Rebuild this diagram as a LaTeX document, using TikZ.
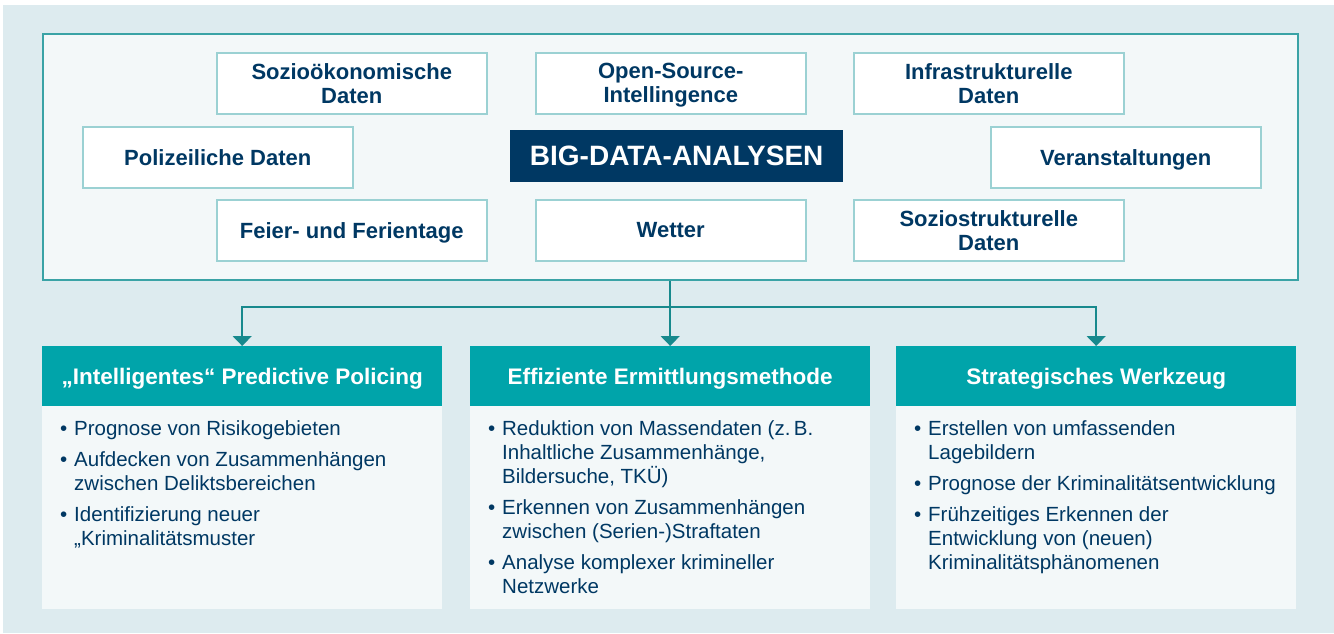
\documentclass[tikz,border=0pt]{standalone}
\usepackage{fontspec}
\setmainfont{Liberation Sans}
\usetikzlibrary{arrows.meta}
\definecolor{bgblue}{HTML}{DDEBEF}
\definecolor{panel}{HTML}{F3F8F9}
\definecolor{tealline}{HTML}{3AA3A6}
\definecolor{boxline}{HTML}{9BD1D3}
\definecolor{navy}{HTML}{003863}
\definecolor{headteal}{HTML}{00A4AA}
\definecolor{arrowteal}{HTML}{17898D}
\newcommand{\bul}{\makebox[14pt][l]{•}}
\newcommand{\ind}{\hspace*{14pt}}
\begin{document}
\begin{tikzpicture}[x=1pt,y=-1pt,
  outerbox/.style={draw=tealline, line width=2pt, fill=panel, anchor=north west, inner sep=0pt, minimum width=1255pt, minimum height=246pt},
  databox/.style={draw=boxline, line width=1.5pt, fill=white, minimum width=270pt, minimum height=61pt, inner sep=0pt, anchor=north west, align=center, text=navy, text depth=0pt, font=\fontsize{22}{24}\selectfont\bfseries},
  bigbox/.style={fill=navy, text=white, minimum width=333pt, minimum height=52pt, inner sep=0pt, anchor=north west, text depth=0pt, font=\fontsize{28}{30}\selectfont\bfseries},
  header/.style={fill=headteal, text=white, minimum width=400pt, minimum height=60pt, inner sep=0pt, anchor=north west, text depth=0pt, font=\fontsize{22.5}{24}\selectfont\bfseries},
  bodybox/.style={fill=panel, minimum width=400pt, minimum height=203pt, inner sep=0pt, anchor=north west},
  bodytext/.style={anchor=north west, inner sep=0pt, align=left, text=navy, font=\fontsize{20.5}{24}\selectfont},
  conn/.style={draw=arrowteal, line width=1.5pt, -{Triangle[width=19pt,length=10pt]}},
]
\useasboundingbox (0,0) rectangle (1334,633);
\fill[white] (0,0) rectangle (1334,633);
\fill[bgblue] (3,5) rectangle (1334,633);

\node[outerbox] (outer) at (42,33) {};

\node[databox] (sozoek) at (216,52) {Sozioökonomische\\Daten};
\node[databox] (osint) at (535,52) {Open-Source-\\Intellingence};
\node[databox] (infra) at (853,52) {Infrastrukturelle\\Daten};
\node[databox] (polizei) at (82,126) {Polizeiliche Daten};
\node[bigbox] (big) at (510,130) {BIG-DATA-ANALYSEN};
\node[databox] (veran) at (990,126) {Veranstaltungen};
\node[databox] (feier) at (216,199) {Feier- und Ferientage};
\node[databox] (wetter) at (535,199) {Wetter};
\node[databox] (sozstr) at (853,199) {Soziostrukturelle\\Daten};

\node[header] (h1) at (42,346) {„Intelligentes“ Predictive Policing};
\node[header] (h2) at (470,346) {Effiziente Ermittlungsmethode};
\node[header] (h3) at (896,346) {Strategisches Werkzeug};
\node[bodybox] (b1) at (42,406) {};
\node[bodybox] (b2) at (470,406) {};
\node[bodybox] (b3) at (896,406) {};

\node[bodytext] (t1) at (60,420) {\bul Prognose von Risikogebieten\\[7pt]
\bul Aufdecken von Zusammenhängen\\
\ind zwischen Deliktsbereichen\\[7pt]
\bul Identifizierung neuer\\
\ind „Kriminalitätsmuster};
\node[bodytext] (t2) at (488,420) {\bul Reduktion von Massendaten (z.\,B.\\
\ind Inhaltliche Zusammenhänge,\\
\ind Bildersuche, TKÜ)\\[7pt]
\bul Erkennen von Zusammenhängen\\
\ind zwischen (Serien-)Straftaten\\[7pt]
\bul Analyse komplexer krimineller\\
\ind Netzwerke};
\node[bodytext] (t3) at (914,420) {\bul Erstellen von umfassenden\\
\ind Lagebildern\\[7pt]
\bul Prognose der Kriminalitätsentwicklung\\[7pt]
\bul Frühzeitiges Erkennen der\\
\ind Entwicklung von (neuen)\\
\ind Kriminalitätsphänomenen};

\coordinate (split) at (670,307);
\draw[conn] (outer.south -| h2.north) -- (h2.north);
\draw[conn] (split) -| (h1.north);
\draw[conn] (split) -| (h3.north);
\end{tikzpicture}
\end{document}
